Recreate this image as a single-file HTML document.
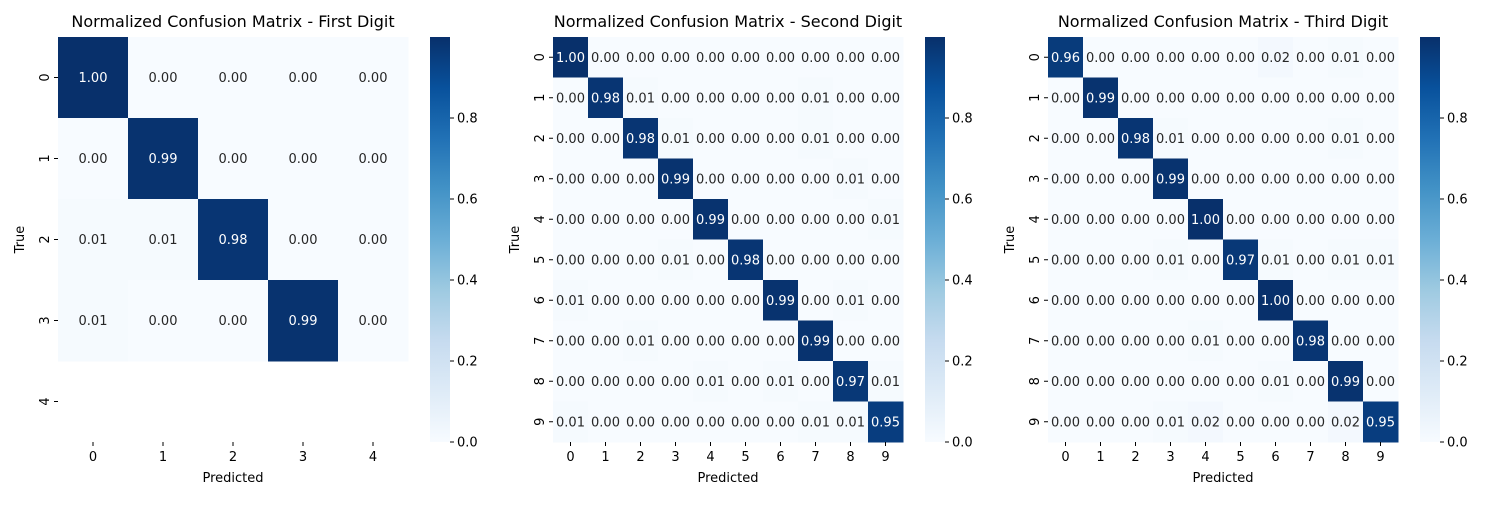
<!DOCTYPE html>
<html><head><meta charset="utf-8"><style>
body{margin:0;background:#fff;}
svg text{font-family:"DejaVu Sans","Liberation Sans",sans-serif;}
</style></head><body>
<svg id="fig" width="1500" height="500" xmlns="http://www.w3.org/2000/svg"></svg>
<script>
const titles = ["Normalized Confusion Matrix - First Digit","Normalized Confusion Matrix - Second Digit","Normalized Confusion Matrix - Third Digit"];
const labels1 = [0,1,2,3,4];
const labels10 = [0,1,2,3,4,5,6,7,8,9];
const cbTicks = [0.0,0.2,0.4,0.6,0.8];
const matrix1 = [
[1.00,0.00,0.00,0.00,0.00],
[0.00,0.99,0.00,0.00,0.00],
[0.01,0.01,0.98,0.00,0.00],
[0.01,0.00,0.00,0.99,0.00],
[null,null,null,null,null]];
const matrix2 = [
[1.00,0,0,0,0,0,0,0,0,0],
[0,0.98,0.01,0,0,0,0,0.01,0,0],
[0,0,0.98,0.01,0,0,0,0.01,0,0],
[0,0,0,0.99,0,0,0,0,0.01,0],
[0,0,0,0,0.99,0,0,0,0,0.01],
[0,0,0,0.01,0,0.98,0,0,0,0],
[0.01,0,0,0,0,0,0.99,0,0.01,0],
[0,0,0.01,0,0,0,0,0.99,0,0],
[0,0,0,0,0.01,0,0.01,0,0.97,0.01],
[0.01,0,0,0,0,0,0,0.01,0.01,0.95]];
const matrix3 = [
[0.96,0,0,0,0,0,0.02,0,0.01,0],
[0,0.99,0,0,0,0,0,0,0,0],
[0,0,0.98,0.01,0,0,0,0,0.01,0],
[0,0,0,0.99,0,0,0,0,0,0],
[0,0,0,0,1.00,0,0,0,0,0],
[0,0,0,0.01,0,0.97,0.01,0,0.01,0.01],
[0,0,0,0,0,0,1.00,0,0,0],
[0,0,0,0,0.01,0,0,0.98,0,0],
[0,0,0,0,0,0,0.01,0,0.99,0],
[0,0,0,0.01,0.02,0,0,0,0.02,0.95]];

const stops=["#f7fbff","#deebf7","#c6dbef","#9ecae1","#6baed6","#4292c6","#2171b5","#08519c","#08306b"];
function hex(h){return [1,3,5].map(i=>parseInt(h.substr(i,2),16));}
function cmap(v){v=Math.max(0,Math.min(1,v));const p=v*(stops.length-1);const i=Math.min(Math.floor(p),stops.length-2);const f=p-i;const a=hex(stops[i]),b=hex(stops[i+1]);return "rgb("+a.map((c,k)=>Math.round(c+(b[k]-c)*f)).join(",")+")";}
const NS="http://www.w3.org/2000/svg";
const svg=document.getElementById("fig");
function mk(tag,attrs,parent){const e=document.createElementNS(NS,tag);for(const k in attrs)e.setAttribute(k,attrs[k]);(parent||svg).appendChild(e);return e;}

function drawChart(idx,M,labs,titleText){
  const g=mk("g",{});
  
  
  const x0=58+idx*495, y0=37, W=350, H=405, n=labs.length;
  const cw=W/n, ch=H/n;
  const xs=j=>x0+j*cw, ys=i=>y0+i*ch;
  const t=mk("text",{x:x0+W/2,y:27,"text-anchor":"middle","font-size":"16",fill:"#000"},g);t.textContent=titleText;
  
  
  for(let i=0;i<n;i++)for(let j=0;j<n;j++){
    const v=M[i][j]; if(v===null||v===undefined) continue;
    const r=mk("rect",{x:xs(j),y:ys(i),width:cw+0.5,height:ch+0.5,fill:cmap(v)},g);
    
    
    const tx=mk("text",{x:xs(j)+cw/2,y:ys(i)+ch/2+4.5,"text-anchor":"middle","font-size":"13",fill:v>0.5?"#fff":"#262626"},g);
    tx.textContent=v.toFixed(2);
    
    
  }
  labs.forEach((l,k)=>{
    const cx=xs(k)+cw/2;
    mk("line",{x1:cx,x2:cx,y1:y0+H,y2:y0+H+4,stroke:"#000","stroke-width":1},g);
    const a=mk("text",{x:cx,y:y0+H+19,"text-anchor":"middle","font-size":"13",fill:"#000"},g);a.textContent=l;
    
    
    const cy=ys(k)+ch/2;
    mk("line",{x1:x0-4,x2:x0,y1:cy,y2:cy,stroke:"#000","stroke-width":1},g);
    const b=mk("text",{x:0,y:0,"text-anchor":"middle","font-size":"13",fill:"#000",transform:`translate(${x0-9},${cy}) rotate(-90)`},g);b.textContent=l;
    
    
  });
  const xl=mk("text",{x:x0+W/2,y:482,"text-anchor":"middle","font-size":"13",fill:"#000"},g);xl.textContent="Predicted";
  
  
  const yl=mk("text",{x:0,y:0,"text-anchor":"middle","font-size":"13",fill:"#000",transform:`translate(${x0-34},${y0+H/2}) rotate(-90)`},g);yl.textContent="True";
  
  
  // colorbar
  const cbx=x0+372, cbw=20;
  const gid="grad"+idx;
  const defs=mk("defs",{},g);
  const lg=mk("linearGradient",{id:gid,x1:0,y1:1,x2:0,y2:0},defs);
  stops.forEach((c,k)=>mk("stop",{offset:k/(stops.length-1),"stop-color":c},lg));
  const cb=mk("rect",{x:cbx,y:y0,width:cbw,height:H,fill:`url(#${gid})`},g);
  
  
  cbTicks.forEach(v=>{
    const cy=y0+H-v*H;
    mk("line",{x1:cbx+cbw,x2:cbx+cbw+4,y1:cy,y2:cy,stroke:"#000","stroke-width":1},g);
    const tt=mk("text",{x:cbx+cbw+7,y:cy+4.5,"font-size":"13",fill:"#000"},g);tt.textContent=v.toFixed(1);
    
    
  });
}
drawChart(0,matrix1,labels1,titles[0]);
drawChart(1,matrix2,labels10,titles[1]);
drawChart(2,matrix3,labels10,titles[2]);
</script>
</body></html>
